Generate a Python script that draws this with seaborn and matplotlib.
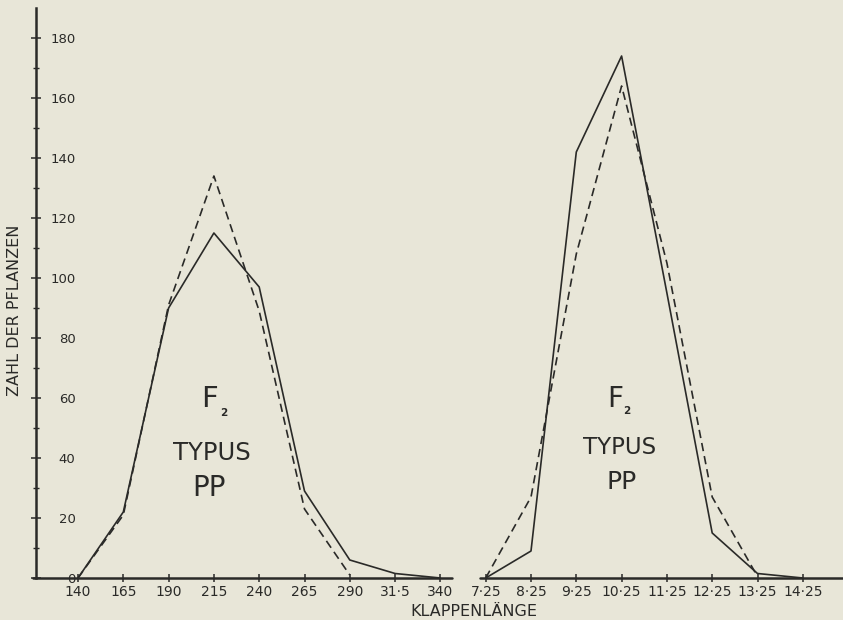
import numpy as np
import pandas as pd
import matplotlib
matplotlib.use("Agg")
import matplotlib.pyplot as plt
import seaborn as sns

# ---- data ----
labels_left = ["140", "165", "190", "215", "240", "265", "290", "31·5", "340"]
labels_right = ["7·25", "8·25", "9·25", "10·25", "11·25", "12·25", "13·25", "14·25"]

solid_left = [0, 22, 90, 115, 97, 29, 6, 1.5, 0]
dashed_left = [0, 21, 91, 134, 89, 23, 1, np.nan, np.nan]
solid_right = [0, 9, 142, 174, 95, 15, 1.5, 0]
dashed_right = [0, 27, 108, 164, 105, 27, 0.5, np.nan]

y_major = [0, 20, 40, 60, 80, 100, 120, 140, 160, 180]
y_minor = [10, 30, 50, 70, 90, 110, 130, 150, 170]

INK = "#2a2a28"
PAPER = "#e8e6d8"

sns.set_style("ticks")
plt.rcParams["font.family"] = ["DejaVu Sans"]

rows = []
pos = 0
for panel, labs, s, d in (("links", labels_left, solid_left, dashed_left),
                          ("rechts", labels_right, solid_right, dashed_right)):
    for i, lab in enumerate(labs):
        rows.append({"pos": pos + i, "wert": s[i], "reihe": "beobachtet", "panel": panel})
        rows.append({"pos": pos + i, "wert": d[i], "reihe": "berechnet", "panel": panel})
    pos += len(labs)
df = pd.DataFrame(rows).dropna()
all_labels = labels_left + labels_right

fig = plt.figure(figsize=(8.43, 6.2), dpi=100, facecolor=PAPER)
ax = fig.add_axes([36 / 843, 42 / 620, 1 - 36 / 843, 570 / 620])
ax.set_facecolor(PAPER)

for panel in ("links", "rechts"):
    sub = df[df["panel"] == panel]
    sns.lineplot(data=sub, x="pos", y="wert", style="reihe",
                 dashes={"beobachtet": "", "berechnet": (5, 3)},
                 color=INK, linewidth=1.2, legend=False, ax=ax,
                 estimator=None, sort=False)

step = 45.3
x0 = (36 - 78) / step
x1 = x0 + 807 / step
ax.set_xlim(x0, x1)
ax.set_ylim(0, 190)

# spines
for s in ("top", "right", "bottom"):
    ax.spines[s].set_visible(False)
ax.spines["left"].set_linewidth(1.8)
ax.spines["left"].set_color(INK)

# broken x axis line (two segments)
span = x1 - x0
gap_l = (len(labels_left) - 1 + 0.25 - x0) / span
gap_r = (len(labels_left) - 0.12 - x0) / span
ax.axhline(0, xmin=-0.004, xmax=gap_l, color=INK, lw=1.8, clip_on=False)
ax.axhline(0, xmin=gap_r, xmax=1.0, color=INK, lw=1.8, clip_on=False)

ax.set_xticks(range(len(all_labels)))
ax.set_xticklabels(all_labels)
ax.tick_params(axis="x", direction="inout", length=6, width=1.1, color=INK,
               labelsize=10, labelcolor=INK, pad=2)

ax.set_yticks(y_major)
ax.set_yticks(y_minor, minor=True)
ax.set_yticklabels([str(v) for v in y_major])
ax.tick_params(axis="y", which="major", direction="inout", length=7, width=1.1,
               color=INK, labelsize=9.5, labelcolor=INK, pad=-32)
ax.tick_params(axis="y", which="minor", direction="inout", length=5, width=1.0,
               color=INK)
ax.set_xlabel("")
ax.set_ylabel("")

def px2x(px):
    return (px - 78) / step

def py2y(py):
    return (578 - py) / 3.0

# left panel text
ax.text(px2x(210), py2y(399), "F", ha="center", va="center", fontsize=21, color=INK)
ax.text(px2x(224), py2y(413), "2", ha="center", va="center", fontsize=7.5,
        fontweight="bold", color=INK)
ax.text(px2x(212), py2y(453), "TYPUS", ha="center", va="center", fontsize=17.5, color=INK)
ax.text(px2x(209), py2y(488), "PP", ha="center", va="center", fontsize=20, color=INK)

# right panel text
ax.text(px2x(615), py2y(399), "F", ha="center", va="center", fontsize=20, color=INK)
ax.text(px2x(627), py2y(411), "2", ha="center", va="center", fontsize=7.5,
        fontweight="bold", color=INK)
ax.text(px2x(620), py2y(448), "TYPUS", ha="center", va="center", fontsize=16.5, color=INK)
ax.text(px2x(622), py2y(482), "PP", ha="center", va="center", fontsize=18, color=INK)

fig.text(15 / 843, 1 - 310 / 620, "ZAHL DER PFLANZEN", rotation=90,
         ha="center", va="center", fontsize=11.5, color=INK)
fig.text(474 / 843, 1 - 612 / 620, "KLAPPENLÄNGE", ha="center", va="center",
         fontsize=11.5, color=INK)

fig.savefig("out.png", dpi=100, facecolor=PAPER)
